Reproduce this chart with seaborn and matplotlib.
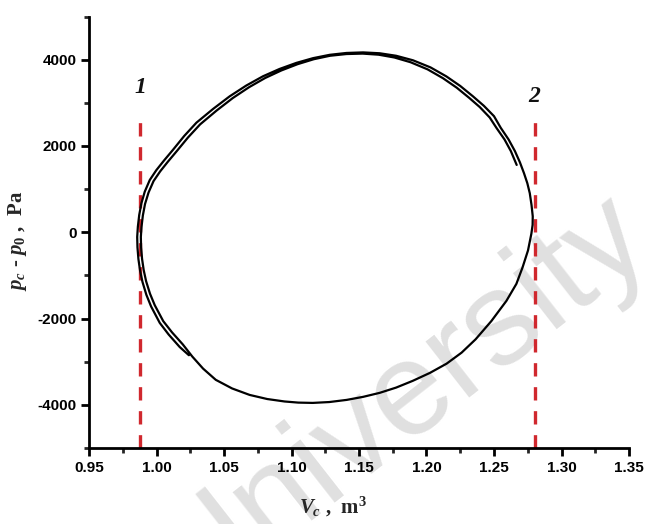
import matplotlib
matplotlib.use("Agg")
import matplotlib.pyplot as plt
from matplotlib.ticker import MultipleLocator
import seaborn as sns
import pandas as pd

# ---- data (trajectory in the V-P plane) ----
V_c = [
    # first (inner) pass, from its top-right end, across the top and down the left
    1.2668, 1.2625, 1.2578, 1.2520, 1.2468, 1.2395, 1.2316, 1.2224, 1.2122, 1.2008,
    1.1882, 1.1762, 1.1645, 1.1527, 1.1407, 1.1285, 1.1165, 1.1045, 1.0925, 1.0805,
    1.0685, 1.0565, 1.0445, 1.0323, 1.0233, 1.0150, 1.0083, 1.0027, 0.9978, 0.9941,
    0.9915, 0.9899, 0.9889, 0.9884, 0.9886, 0.9893, 0.9905, 0.9923, 0.9952, 0.9987,
    1.0050, 1.0115, 1.0195, 1.0265,
    # bottom and right side (single strand)
    1.0345, 1.0439, 1.0560, 1.0690, 1.0820, 1.0949, 1.1050, 1.1157, 1.1280, 1.1409,
    1.1530, 1.1653, 1.1775, 1.1897, 1.2025, 1.2149, 1.2260, 1.2364, 1.2480, 1.2592,
    1.2666, 1.2712, 1.2752, 1.2777, 1.2786, 1.2787, 1.2778, 1.2765, 1.2747, 1.2722,
    1.2692,
    # second (outer) pass across the top and down the left
    1.2655, 1.2608, 1.2550, 1.2500, 1.2425, 1.2344, 1.2250, 1.2147, 1.2030, 1.1900,
    1.1775, 1.1653, 1.1530, 1.1407, 1.1283, 1.1160, 1.1036, 1.0912, 1.0789, 1.0665,
    1.0542, 1.0420, 1.0296, 1.0205, 1.0122, 1.0055, 0.9999, 0.9950, 0.9913, 0.9888,
    0.9872, 0.9862, 0.9857, 0.9859, 0.9866, 0.9878, 0.9896, 0.9925, 0.9960, 1.0024,
    1.0090, 1.0172, 1.0240,
]
P_diff = [
    1560, 1880, 2150, 2410, 2660, 2900, 3115, 3350, 3570, 3775,
    3940, 4050, 4115, 4140, 4130, 4090, 4010, 3895, 3750, 3575,
    3360, 3110, 2820, 2500, 2195, 1880, 1630, 1410, 1185, 920,
    655, 390, 125, -110, -350, -615, -875, -1135, -1425, -1690,
    -2060, -2320, -2600, -2880,
    -3160, -3420, -3620, -3770, -3865, -3922, -3948, -3955, -3935, -3885,
    -3815, -3722, -3600, -3445, -3260, -3045, -2790, -2480, -2060, -1590,
    -1195, -810, -420, -30, 170, 370, 630, 905, 1135, 1370,
    1620,
    1880, 2150, 2420, 2690, 2930, 3150, 3390, 3612, 3820, 3985,
    4090, 4148, 4168, 4155, 4112, 4035, 3925, 3785, 3615, 3400,
    3150, 2860, 2540, 2230, 1910, 1660, 1440, 1210, 940, 670,
    400, 130, -110, -350, -620, -884, -1150, -1450, -1720, -2100,
    -2370, -2660, -2850,
]

marker_x = [0.988, 1.28]
marker_labels = ["1", "2"]
marker_label_y = [3350, 3140]
marker_top = 2650

x_ticks = [0.95, 1.00, 1.05, 1.10, 1.15, 1.20, 1.25, 1.30, 1.35]
y_ticks = [-4000, -2000, 0, 2000, 4000]

sns.set_style("ticks")
plt.rcParams["font.family"] = ["Liberation Sans", "DejaVu Sans"]
plt.rcParams["mathtext.fontset"] = "custom"
plt.rcParams["mathtext.it"] = "Liberation Serif:italic:bold"
plt.rcParams["mathtext.rm"] = "Liberation Serif:bold"
plt.rcParams["mathtext.bf"] = "Liberation Serif:bold"

fig = plt.figure(figsize=(6.49, 5.24), dpi=100)
ax = fig.add_axes([89 / 649, 1 - 448 / 524, (629 - 89) / 649, (448 - 16.5) / 524])
ax.set_zorder(1)
ax.patch.set_alpha(0)

# watermark (behind the axes)
fig.text(0.62, 0.24, "University", rotation=38, fontsize=96, color="#e0e0e0",
         ha="center", va="center", zorder=-5, family="Liberation Sans")

df = pd.DataFrame({"V": V_c, "P": P_diff, "order": range(len(V_c))})
sns.lineplot(data=df, x="V", y="P", sort=False, estimator=None, color="black",
             linewidth=1.6, ax=ax, zorder=3)

for xv, lab, ly in zip(marker_x, marker_labels, marker_label_y):
    ax.plot([xv, xv], [-5000, marker_top], color="#d0282e", linestyle=(0, (4, 3.2)),
            linewidth=2.4, zorder=2, clip_on=False)
    ax.text(xv, ly, lab, ha="center", va="center", fontsize=17, color="#111111",
            family="Liberation Serif", style="italic", weight="bold")

ax.set_xlim(0.95, 1.35)
ax.set_ylim(-5000, 5000)
ax.set_xticks(x_ticks)
ax.set_xticklabels([f"{t:.2f}" for t in x_ticks])
ax.set_yticks(y_ticks)
ax.set_yticklabels([str(t) for t in y_ticks])
ax.xaxis.set_minor_locator(MultipleLocator(0.025))
ax.yaxis.set_minor_locator(MultipleLocator(1000))

for s in ["top", "right"]:
    ax.spines[s].set_visible(False)
for s in ["left", "bottom"]:
    ax.spines[s].set_linewidth(2.0)
    ax.spines[s].set_color("black")

ax.tick_params(axis="both", which="major", direction="out", length=6, width=2.0,
               labelsize=11, colors="black", pad=3)
ax.tick_params(axis="both", which="minor", direction="out", length=3.5, width=2.0)
for lab in ax.get_xticklabels() + ax.get_yticklabels():
    lab.set_fontweight("bold")

ax.set_xlabel(r"$V_c$ ,  m$^3$", fontsize=15, family="Liberation Serif", weight="bold")
ax.set_ylabel(r"$p_c$ - $p_0$ ,  Pa", fontsize=15, family="Liberation Serif", weight="bold")
ax.xaxis.set_label_coords(0.452, -0.11)
ax.yaxis.set_label_coords(-0.112, 0.48)

fig.savefig("out.png", dpi=100, facecolor="white")
